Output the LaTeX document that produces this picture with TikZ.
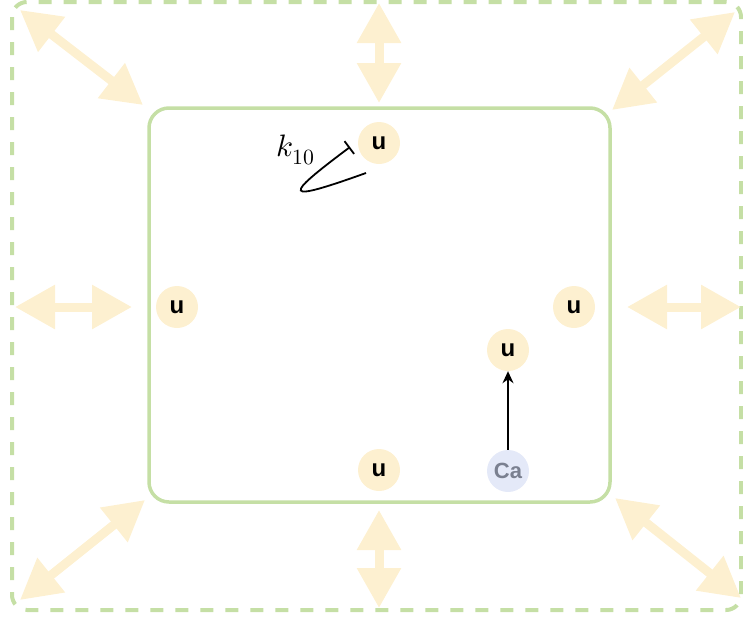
\documentclass[tikz,border=0pt]{standalone}
\usepackage{fontspec}
\usepackage{unicode-math}
\setmainfont{Liberation Sans}
\setmathfont{Latin Modern Math}
\usetikzlibrary{arrows.meta,calc}
\definecolor{cellyellow}{RGB}{253,240,208}
\definecolor{membgreen}{RGB}{197,223,165}
\definecolor{ionblue}{RGB}{228,233,248}
\definecolor{iongray}{RGB}{122,128,144}

\begin{document}
\begin{tikzpicture}[x=1pt, y=-1pt, >={Stealth[length=12pt,width=11pt]},
      unode/.style={circle, fill=cellyellow, minimum size=42pt, inner sep=0pt,
                    font=\bfseries\fontsize{24}{24}\selectfont},
      canode/.style={unode, fill=ionblue, text=iongray,
                     font=\bfseries\fontsize{22}{22}\selectfont},
      flux/.style={{Triangle[length=40pt,width=42pt]}-{Triangle[length=40pt,width=42pt]},
                   line width=9pt, draw=cellyellow},
      memb/.style={draw=membgreen, line width=3.5pt}
    ]
    \useasboundingbox (0,0) rectangle (743,621);

    % outer and inner compartments
    \draw[memb, line width=4pt, dash pattern=on 13pt off 12pt, rounded corners=15pt]
      (12,2) rectangle (741,610);
    \draw[memb, rounded corners=20pt] (149,108) rectangle (610,502);

    % exchange with the surrounding
    \foreach \sx/\sy/\ex/\ey [count=\i] in
        {20/10/143/105, 379/3/379/103, 735/12/612/110,
         15/307/132/307, 627/307/741/307,
         20/600/145/500, 379/510/379/608, 615/498/741/598} {
      \coordinate (f\i a) at (\sx,\sy);
      \coordinate (f\i b) at (\ex,\ey);
      \draw[flux] (f\i a) -- (f\i b);
    }

    \node[unode] (u1) at (379,143) {u};
    \node[unode] (u2) at (177,307) {u};
    \node[unode] (u3) at (574,307) {u};
    \node[unode] (u4) at (508,350) {u};
    \node[unode] (u5) at (379,470) {u};
    \node[canode] (ca) at (508,471) {Ca};

    \draw[->, line width=1.8pt] (ca) -- (u4);

    % self inhibition of u
    \coordinate (k0) at ($(u1)+(-13,30)$);
    \coordinate (k1) at ($(u1)+(-29,4)$);
    \draw[-{Bar[width=16pt]}, line width=1.8pt]
      (k0) .. controls (282,203) and (282,198) .. (k1);
    \node[font=\fontsize{31}{32}\selectfont] (klab) at (296,150) {$k_{10}$};
  \end{tikzpicture}
\end{document}
